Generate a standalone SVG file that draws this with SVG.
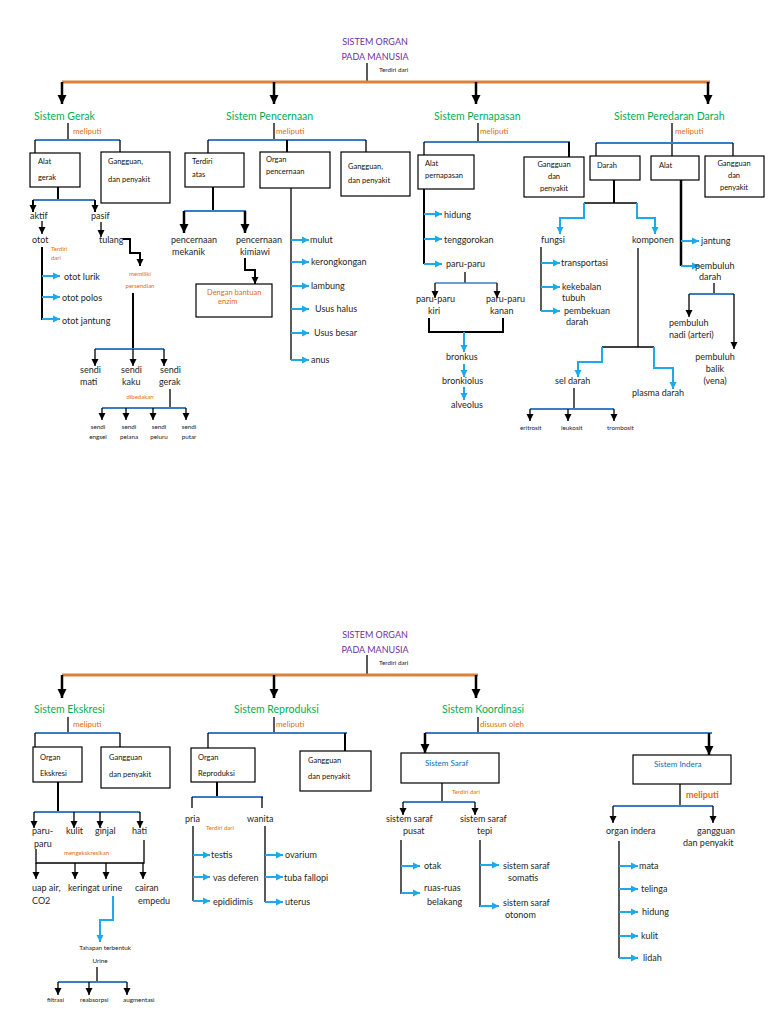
<svg xmlns="http://www.w3.org/2000/svg" width="768" height="1024" viewBox="0 0 768 1024">
<style>
text{font-family:Lato,"Open Sans","DejaVu Sans",sans-serif;fill:#262626}
.t{font-size:9px}
.bx{font-size:7.5px;fill:#111}
.s{font-size:6.3px;fill:#1a1a1a}
.o{font-size:6px;fill:#E46C0A}
.h{font-size:10.5px;fill:#00B050}
.m{font-size:8px;fill:#E46C0A}
.ti{font-size:9px;fill:#7030A0}
.bt{font-size:8px;fill:#0070C0}
.box{fill:#fff;stroke:#000;stroke-width:1.2}
.k{stroke:#000;stroke-width:1.3;fill:none}
.k2{stroke:#000;stroke-width:2;fill:none}
.kt{stroke:#000;stroke-width:2.5;fill:none}
.bl{stroke:#3A7DC4;stroke-width:2;fill:none}
.cy{stroke:#1EA9EC;stroke-width:2;fill:none}
.or{stroke:#D9823B;stroke-width:3;fill:none}
</style>
<defs>
<marker id="ab" markerUnits="userSpaceOnUse" markerWidth="10" markerHeight="10" refX="9" refY="5" orient="auto"><path d="M0,0.5 L9,5 L0,9.5 z" fill="#000"/></marker>
<marker id="as" markerUnits="userSpaceOnUse" markerWidth="8" markerHeight="8" refX="7" refY="4" orient="auto"><path d="M0,0.5 L7,4 L0,7.5 z" fill="#000"/></marker>
<marker id="ac" markerUnits="userSpaceOnUse" markerWidth="8" markerHeight="8" refX="7" refY="4" orient="auto"><path d="M0,0.5 L7,4 L0,7.5 z" fill="#1EA9EC"/></marker>
</defs>
<rect width="768" height="1024" fill="#fff"/>

<g id="connectors">
<!-- TOP -->
<line class="k" x1="367" y1="63" x2="367" y2="82"/>
<line class="or" x1="62" y1="82" x2="710" y2="82"/>
<line class="kt" x1="62" y1="82" x2="62" y2="104" marker-end="url(#ab)"/>
<line class="kt" x1="274" y1="82" x2="274" y2="104" marker-end="url(#ab)"/>
<line class="kt" x1="476" y1="82" x2="476" y2="104" marker-end="url(#ab)"/>
<line class="kt" x1="708" y1="82" x2="708" y2="104" marker-end="url(#ab)"/>
<line class="k" x1="68" y1="123" x2="68" y2="140"/>
<line class="k" x1="274" y1="123" x2="274" y2="140"/>
<line class="k" x1="478" y1="123" x2="478" y2="142"/>
<line class="k" x1="672" y1="123" x2="672" y2="156"/>
<line class="bl" x1="35" y1="140" x2="120" y2="140"/>
<line class="bl" x1="208" y1="140" x2="366" y2="140"/>
<line class="bl" x1="424" y1="142" x2="570" y2="142"/>
<line class="bl" x1="596" y1="143" x2="733" y2="143"/>
<line class="k" x1="35" y1="140" x2="35" y2="153"/>
<line class="k" x1="120" y1="140" x2="120" y2="152"/>
<line class="k" x1="208" y1="140" x2="208" y2="153"/>
<line class="k2" x1="287" y1="140" x2="287" y2="152"/>
<line class="k" x1="366" y1="140" x2="366" y2="152"/>
<line class="k" x1="424" y1="142" x2="424" y2="155"/>
<line class="k2" x1="569" y1="142" x2="569" y2="157"/>
<line class="k" x1="596" y1="143" x2="596" y2="156"/>
<line class="k" x1="733" y1="143" x2="733" y2="156"/>

<!-- Gerak -->
<line class="k2" x1="58" y1="187" x2="58" y2="200"/>
<line class="bl" x1="33" y1="200" x2="95" y2="200"/>
<line class="k2" x1="33" y1="200" x2="33" y2="212" marker-end="url(#as)"/>
<line class="k2" x1="95" y1="200" x2="95" y2="212" marker-end="url(#as)"/>
<line class="k" x1="42" y1="221" x2="42" y2="234" marker-end="url(#as)"/>
<line class="k" x1="101" y1="222" x2="101" y2="237" marker-end="url(#as)"/>
<polyline class="k2" points="123,239 130,239 130,253 140,253 140,266" marker-end="url(#as)"/>
<line class="k2" x1="133" y1="293" x2="133" y2="349"/>
<line class="bl" x1="95" y1="349" x2="164" y2="349"/>
<line class="k" x1="95" y1="349" x2="95" y2="366" marker-end="url(#as)"/>
<line class="k" x1="133" y1="349" x2="133" y2="366" marker-end="url(#as)"/>
<line class="k" x1="164" y1="349" x2="164" y2="366" marker-end="url(#as)"/>
<line class="k" x1="170" y1="389" x2="170" y2="408"/>
<line class="bl" x1="102" y1="408" x2="186" y2="408"/>
<line class="k" x1="102" y1="408" x2="102" y2="420" marker-end="url(#as)"/>
<line class="k" x1="126" y1="408" x2="126" y2="420" marker-end="url(#as)"/>
<line class="k" x1="153" y1="408" x2="153" y2="420" marker-end="url(#as)"/>
<line class="k" x1="186" y1="408" x2="186" y2="420" marker-end="url(#as)"/>
<line class="k2" x1="42" y1="247" x2="42" y2="320"/>
<line class="cy" x1="42" y1="276" x2="60" y2="276" marker-end="url(#ac)"/>
<line class="cy" x1="42" y1="297" x2="60" y2="297" marker-end="url(#ac)"/>
<line class="cy" x1="42" y1="319" x2="60" y2="319" marker-end="url(#ac)"/>

<!-- Pencernaan -->
<line class="k2" x1="213" y1="187" x2="213" y2="211"/>
<line class="bl" x1="184" y1="211" x2="246" y2="211"/>
<line class="kt" x1="184" y1="211" x2="184" y2="233" marker-end="url(#ab)"/>
<line class="kt" x1="245" y1="211" x2="245" y2="233" marker-end="url(#ab)"/>
<polyline class="k2" points="245,258 245,270 255,270 255,284" marker-end="url(#as)"/>
<line class="k" x1="291" y1="188" x2="291" y2="360"/>
<line class="cy" x1="291" y1="240" x2="309" y2="240" marker-end="url(#ac)"/>
<line class="cy" x1="291" y1="262" x2="309" y2="262" marker-end="url(#ac)"/>
<line class="cy" x1="291" y1="286" x2="309" y2="286" marker-end="url(#ac)"/>
<line class="cy" x1="291" y1="309" x2="309" y2="309" marker-end="url(#ac)"/>
<line class="cy" x1="291" y1="333" x2="309" y2="333" marker-end="url(#ac)"/>
<line class="cy" x1="291" y1="360" x2="309" y2="360" marker-end="url(#ac)"/>

<!-- Pernapasan -->
<line class="k2" x1="424" y1="189" x2="424" y2="264"/>
<line class="cy" x1="424" y1="214" x2="442" y2="214" marker-end="url(#ac)"/>
<line class="cy" x1="424" y1="239" x2="442" y2="239" marker-end="url(#ac)"/>
<line class="cy" x1="424" y1="264" x2="442" y2="264" marker-end="url(#ac)"/>
<line class="k" x1="465" y1="272" x2="465" y2="283"/>
<line class="bl" x1="435" y1="283" x2="497" y2="283" style="stroke-width:1.5"/>
<line class="k" x1="435" y1="283" x2="435" y2="298" marker-end="url(#as)"/>
<line class="k" x1="497" y1="283" x2="497" y2="298" marker-end="url(#as)"/>
<polyline class="k2" points="429,318 429,332 503,332 503,318"/>
<line class="cy" x1="464" y1="332" x2="464" y2="352" marker-end="url(#ac)"/>
<line class="cy" x1="464" y1="364" x2="464" y2="377" marker-end="url(#ac)"/>
<line class="cy" x1="464" y1="387" x2="464" y2="400" marker-end="url(#ac)"/>

<!-- Peredaran Darah -->
<line class="k2" x1="614" y1="180" x2="614" y2="203"/>
<line class="k" x1="584" y1="203" x2="637" y2="203"/>
<polyline class="cy" points="584,203 584,218 560,218 560,234" marker-end="url(#ac)"/>
<polyline class="cy" points="637,203 637,218 655,218 655,234" marker-end="url(#ac)"/>
<line class="k" x1="541" y1="247" x2="541" y2="311"/>
<line class="cy" x1="541" y1="263" x2="560" y2="263" marker-end="url(#ac)"/>
<line class="cy" x1="541" y1="287" x2="560" y2="287" marker-end="url(#ac)"/>
<line class="cy" x1="541" y1="311" x2="560" y2="311" marker-end="url(#ac)"/>
<line class="kt" x1="681" y1="180" x2="681" y2="266"/>
<line class="cy" x1="681" y1="241" x2="699" y2="241" marker-end="url(#ac)"/>
<line class="cy" x1="681" y1="266" x2="699" y2="266" marker-end="url(#ac)"/>
<line class="k" x1="714" y1="283" x2="714" y2="294"/>
<line class="bl" x1="689" y1="294" x2="734" y2="294"/>
<line class="k" x1="689" y1="294" x2="689" y2="317" marker-end="url(#as)"/>
<line class="k" x1="734" y1="294" x2="734" y2="349" marker-end="url(#as)"/>
<line class="k" x1="638" y1="248" x2="638" y2="347"/>
<line class="k" x1="602" y1="347" x2="654" y2="347"/>
<polyline class="cy" points="602,347 602,362 578,362 578,377" marker-end="url(#ac)"/>
<polyline class="cy" points="654,347 654,368 673,368 673,389" marker-end="url(#ac)"/>
<line class="k" x1="574" y1="388" x2="574" y2="409"/>
<line class="bl" x1="530" y1="409" x2="614" y2="409"/>
<line class="k" x1="530" y1="409" x2="530" y2="421" marker-end="url(#as)"/>
<line class="k" x1="568" y1="409" x2="568" y2="421" marker-end="url(#as)"/>
<line class="k" x1="614" y1="409" x2="614" y2="421" marker-end="url(#as)"/>

<!-- BOTTOM -->
<line class="k" x1="367" y1="655" x2="367" y2="675"/>
<line class="or" x1="62" y1="675" x2="478" y2="675"/>
<line class="kt" x1="62" y1="675" x2="62" y2="698" marker-end="url(#ab)"/>
<line class="kt" x1="274" y1="675" x2="274" y2="698" marker-end="url(#ab)"/>
<line class="kt" x1="476" y1="675" x2="476" y2="698" marker-end="url(#ab)"/>
<line class="k" x1="68" y1="717" x2="68" y2="733"/>
<line class="k" x1="274" y1="717" x2="274" y2="733"/>
<line class="k" x1="478" y1="717" x2="478" y2="733"/>
<line class="bl" x1="35" y1="733" x2="120" y2="733"/>
<line class="bl" x1="208" y1="733" x2="347" y2="733"/>
<line class="bl" x1="425" y1="733" x2="712" y2="733"/>
<line class="k" x1="35" y1="733" x2="35" y2="747"/>
<line class="k" x1="120" y1="733" x2="120" y2="747"/>
<line class="k" x1="208" y1="733" x2="208" y2="748"/>
<line class="k2" x1="345" y1="733" x2="345" y2="751"/>
<line class="kt" x1="425" y1="733" x2="425" y2="753" marker-end="url(#ab)"/>
<line class="kt" x1="709" y1="733" x2="709" y2="755" marker-end="url(#ab)"/>

<!-- Ekskresi -->
<line class="k2" x1="58" y1="782" x2="58" y2="812"/>
<line class="bl" x1="34" y1="812" x2="140" y2="812"/>
<line class="k" x1="34" y1="812" x2="34" y2="828" marker-end="url(#as)"/>
<line class="k" x1="74" y1="812" x2="74" y2="828" marker-end="url(#as)"/>
<line class="k" x1="100" y1="812" x2="100" y2="828" marker-end="url(#as)"/>
<line class="k" x1="140" y1="812" x2="140" y2="828" marker-end="url(#as)"/>
<polyline class="k" points="36,849 36,863 144,863 144,840"/>
<line class="k" x1="36" y1="863" x2="36" y2="879" marker-end="url(#as)"/>
<line class="k" x1="75" y1="863" x2="75" y2="879" marker-end="url(#as)"/>
<line class="k" x1="106" y1="863" x2="106" y2="879" marker-end="url(#as)"/>
<line class="k" x1="143" y1="863" x2="143" y2="879" marker-end="url(#as)"/>
<polyline class="cy" points="113,896 113,920 100,920 100,942" marker-end="url(#ac)"/>
<line class="k" x1="97" y1="967" x2="97" y2="982"/>
<line class="bl" x1="58" y1="982" x2="127" y2="982"/>
<line class="k" x1="58" y1="982" x2="58" y2="995" marker-end="url(#as)"/>
<line class="k" x1="89" y1="982" x2="89" y2="995" marker-end="url(#as)"/>
<line class="k" x1="127" y1="982" x2="127" y2="995" marker-end="url(#as)"/>

<!-- Reproduksi -->
<line class="k2" x1="217" y1="782" x2="217" y2="797"/>
<line class="bl" x1="192" y1="797" x2="263" y2="797"/>
<line class="k" x1="192" y1="797" x2="192" y2="808"/>
<line class="k" x1="262" y1="797" x2="262" y2="808"/>
<line class="k" x1="193" y1="826" x2="193" y2="901"/>
<line class="cy" x1="193" y1="855" x2="210" y2="855" marker-end="url(#ac)"/>
<line class="cy" x1="193" y1="877" x2="210" y2="877" marker-end="url(#ac)"/>
<line class="cy" x1="193" y1="901" x2="210" y2="901" marker-end="url(#ac)"/>
<line class="k" x1="265" y1="826" x2="265" y2="902"/>
<line class="cy" x1="265" y1="855" x2="283" y2="855" marker-end="url(#ac)"/>
<line class="cy" x1="265" y1="877" x2="283" y2="877" marker-end="url(#ac)"/>
<line class="cy" x1="265" y1="902" x2="283" y2="902" marker-end="url(#ac)"/>

<!-- Koordinasi: Saraf -->
<line class="k" x1="442" y1="783" x2="442" y2="802"/>
<line class="bl" x1="403" y1="802" x2="475" y2="802"/>
<line class="k" x1="403" y1="802" x2="403" y2="815" marker-end="url(#as)"/>
<line class="k" x1="475" y1="802" x2="475" y2="815" marker-end="url(#as)"/>
<line class="k" x1="401" y1="840" x2="401" y2="894"/>
<line class="cy" x1="401" y1="866" x2="420" y2="866" marker-end="url(#ac)"/>
<line class="cy" x1="401" y1="893" x2="420" y2="893" marker-end="url(#ac)"/>
<line class="k" x1="480" y1="840" x2="480" y2="907"/>
<line class="cy" x1="480" y1="865" x2="499" y2="865" marker-end="url(#ac)"/>
<line class="cy" x1="480" y1="906" x2="499" y2="906" marker-end="url(#ac)"/>

<!-- Koordinasi: Indera -->
<line class="k" x1="680" y1="784" x2="680" y2="806"/>
<line class="bl" x1="613" y1="806" x2="713" y2="806"/>
<line class="k" x1="613" y1="806" x2="613" y2="823" marker-end="url(#as)"/>
<line class="k" x1="713" y1="806" x2="713" y2="823" marker-end="url(#as)"/>
<line class="k" x1="619" y1="841" x2="619" y2="958"/>
<line class="cy" x1="619" y1="866" x2="638" y2="866" marker-end="url(#ac)"/>
<line class="cy" x1="619" y1="889" x2="638" y2="889" marker-end="url(#ac)"/>
<line class="cy" x1="619" y1="912" x2="638" y2="912" marker-end="url(#ac)"/>
<line class="cy" x1="619" y1="936" x2="638" y2="936" marker-end="url(#ac)"/>
<line class="cy" x1="619" y1="958" x2="638" y2="958" marker-end="url(#ac)"/>
</g>

<!-- ===== TOP SECTION NODES ===== -->
<g id="title-top">
<text class="ti" x="375" y="45" text-anchor="middle">SISTEM ORGAN</text>
<text class="ti" x="375" y="60" text-anchor="middle">PADA MANUSIA</text>
<text class="s" x="379" y="72">Terdiri dari</text>
</g>

<g id="sistem-gerak">
<text class="h" x="34" y="120">Sistem Gerak</text>
<text class="m" x="73" y="134">meliputi</text>
</g>
<g id="alat-gerak"><rect class="box" x="30" y="153" width="50" height="34"/><text class="bx" x="38" y="164">Alat</text><text class="bx" x="38" y="180">gerak</text></g>
<g id="gangguan-gerak"><rect class="box" x="101" y="152" width="69" height="51"/><text class="bx" x="108" y="164">Gangguan,</text><text class="bx" x="108" y="182">dan penyakit</text></g>
<g id="aktif"><text class="t" x="30" y="219">aktif</text></g>
<g id="pasif"><text class="t" x="91" y="219">pasif</text></g>
<g id="otot"><text class="t" x="32" y="243">otot</text><text class="o" x="51" y="251">Terdiri</text><text class="o" x="51" y="260">dari</text></g>
<g id="tulang"><text class="t" x="99" y="243">tulang</text></g>
<g id="persendian"><text class="o" x="140" y="276" text-anchor="middle">memiliki</text><text class="o" x="140" y="288" text-anchor="middle">persendian</text></g>
<g id="otot-lurik"><text class="t" x="64" y="280">otot lurik</text></g>
<g id="otot-polos"><text class="t" x="62" y="301">otot polos</text></g>
<g id="otot-jantung"><text class="t" x="62" y="324">otot jantung</text></g>
<g id="sendi-mati"><text class="t" x="80" y="373">sendi</text><text class="t" x="80" y="385">mati</text></g>
<g id="sendi-kaku"><text class="t" x="121" y="373">sendi</text><text class="t" x="122" y="385">kaku</text></g>
<g id="sendi-gerak"><text class="t" x="160" y="373">sendi</text><text class="t" x="159" y="385">gerak</text><text class="o" x="140" y="399" text-anchor="middle">dibedakan</text></g>
<g id="sendi-engsel"><text class="s" x="98" y="429" text-anchor="middle">sendi</text><text class="s" x="98" y="439" text-anchor="middle">engsel</text></g>
<g id="sendi-pelana"><text class="s" x="129" y="429" text-anchor="middle">sendi</text><text class="s" x="129" y="439" text-anchor="middle">pelana</text></g>
<g id="sendi-peluru"><text class="s" x="159" y="429" text-anchor="middle">sendi</text><text class="s" x="159" y="439" text-anchor="middle">peluru</text></g>
<g id="sendi-putar"><text class="s" x="189" y="429" text-anchor="middle">sendi</text><text class="s" x="189" y="439" text-anchor="middle">putar</text></g>

<g id="sistem-pencernaan">
<text class="h" x="226" y="120">Sistem Pencernaan</text>
<text class="m" x="276" y="134">meliputi</text>
</g>
<g id="terdiri-atas"><rect class="box" x="185" y="153" width="59" height="34"/><text class="bx" x="192" y="164">Terdiri</text><text class="bx" x="192" y="177">atas</text></g>
<g id="organ-pencernaan"><rect class="box" x="260" y="152" width="70" height="36"/><text class="bx" x="266" y="162">Organ</text><text class="bx" x="266" y="174">pencernaan</text></g>
<g id="gangguan-pencernaan"><rect class="box" x="341" y="152" width="69" height="44"/><text class="bx" x="348" y="169">Gangguan,</text><text class="bx" x="348" y="183">dan penyakit</text></g>
<g id="mekanik"><text class="t" x="171" y="243">pencernaan</text><text class="t" x="172" y="255">mekanik</text></g>
<g id="kimiawi"><text class="t" x="236" y="243">pencernaan</text><text class="t" x="240" y="255">kimiawi</text></g>
<g id="enzim"><rect class="box" x="196" y="284" width="76" height="33"/><text class="bx" x="207" y="295" style="fill:#E46C0A">Dengan bantuan</text><text class="bx" x="218" y="304" style="fill:#E46C0A">enzim</text></g>
<g id="mulut"><text class="t" x="310" y="243">mulut</text></g>
<g id="kerongkongan"><text class="t" x="311" y="265">kerongkongan</text></g>
<g id="lambung"><text class="t" x="311" y="289">lambung</text></g>
<g id="usus-halus"><text class="t" x="315" y="312">Usus halus</text></g>
<g id="usus-besar"><text class="t" x="314" y="336">Usus besar</text></g>
<g id="anus"><text class="t" x="311" y="363">anus</text></g>

<g id="sistem-pernapasan">
<text class="h" x="434" y="120">Sistem Pernapasan</text>
<text class="m" x="480" y="134">meliputi</text>
</g>
<g id="alat-pernapasan"><rect class="box" x="418" y="155" width="56" height="34"/><text class="bx" x="425" y="166">Alat</text><text class="bx" x="425" y="178">pernapasan</text></g>
<g id="gangguan-pernapasan"><rect class="box" x="524" y="157" width="60" height="40"/><text class="bx" x="554" y="167" text-anchor="middle">Gangguan</text><text class="bx" x="554" y="179" text-anchor="middle">dan</text><text class="bx" x="554" y="191" text-anchor="middle">penyakit</text></g>
<g id="hidung"><text class="t" x="444" y="218">hidung</text></g>
<g id="tenggorokan"><text class="t" x="444" y="243">tenggorokan</text></g>
<g id="paru-paru"><text class="t" x="446" y="267">paru-paru</text></g>
<g id="paru-kiri"><text class="t" x="416" y="302">paru-paru</text><text class="t" x="428" y="314">kiri</text></g>
<g id="paru-kanan"><text class="t" x="486" y="302">paru-paru</text><text class="t" x="490" y="314">kanan</text></g>
<g id="bronkus"><text class="t" x="446" y="360">bronkus</text></g>
<g id="bronkiolus"><text class="t" x="442" y="384">bronkiolus</text></g>
<g id="alveolus"><text class="t" x="451" y="408">alveolus</text></g>

<g id="sistem-peredaran">
<text class="h" x="614" y="120">Sistem Peredaran Darah</text>
<text class="m" x="675" y="134">meliputi</text>
</g>
<g id="darah"><rect class="box" x="590" y="156" width="50" height="24"/><text class="bx" x="597" y="168">Darah</text></g>
<g id="alat-peredaran"><rect class="box" x="651" y="156" width="48" height="24"/><text class="bx" x="659" y="168">Alat</text></g>
<g id="gangguan-peredaran"><rect class="box" x="705" y="156" width="59" height="41"/><text class="bx" x="734" y="166" text-anchor="middle">Gangguan</text><text class="bx" x="734" y="178" text-anchor="middle">dan</text><text class="bx" x="734" y="190" text-anchor="middle">penyakit</text></g>
<g id="fungsi"><text class="t" x="541" y="243">fungsi</text></g>
<g id="komponen"><text class="t" x="632" y="243">komponen</text></g>
<g id="transportasi"><text class="t" x="561" y="266">transportasi</text></g>
<g id="kekebalan"><text class="t" x="562" y="290">kekebalan</text><text class="t" x="562" y="301">tubuh</text></g>
<g id="pembekuan"><text class="t" x="564" y="314">pembekuan</text><text class="t" x="566" y="325">darah</text></g>
<g id="jantung"><text class="t" x="701" y="244">jantung</text></g>
<g id="pembuluh-darah"><text class="t" x="695" y="269">pembuluh</text><text class="t" x="699" y="280">darah</text></g>
<g id="arteri"><text class="t" x="669" y="326">pembuluh</text><text class="t" x="669" y="338">nadi (arteri)</text></g>
<g id="vena"><text class="t" x="715" y="360" text-anchor="middle">pembuluh</text><text class="t" x="715" y="372" text-anchor="middle">balik</text><text class="t" x="715" y="384" text-anchor="middle">(vena)</text></g>
<g id="sel-darah"><text class="t" x="555" y="384">sel darah</text></g>
<g id="plasma-darah"><text class="t" x="632" y="396">plasma darah</text></g>
<g id="eritrosit"><text class="s" x="520" y="430">eritrosit</text></g>
<g id="leukosit"><text class="s" x="561" y="430">leukosit</text></g>
<g id="trombosit"><text class="s" x="607" y="430">trombosit</text></g>

<!-- ===== BOTTOM SECTION NODES ===== -->
<g id="title-bottom">
<text class="ti" x="375" y="638" text-anchor="middle">SISTEM ORGAN</text>
<text class="ti" x="375" y="653" text-anchor="middle">PADA MANUSIA</text>
<text class="s" x="379" y="665">Terdiri dari</text>
</g>

<g id="sistem-ekskresi">
<text class="h" x="34" y="713">Sistem Ekskresi</text>
<text class="m" x="73" y="727">meliputi</text>
</g>
<g id="organ-ekskresi"><rect class="box" x="33" y="747" width="49" height="35"/><text class="bx" x="40" y="760">Organ</text><text class="bx" x="40" y="776">Ekskresi</text></g>
<g id="gangguan-ekskresi"><rect class="box" x="101" y="747" width="69" height="41"/><text class="bx" x="109" y="760">Gangguan</text><text class="bx" x="109" y="777">dan penyakit</text></g>
<g id="paru"><text class="t" x="32" y="834">paru-</text><text class="t" x="34" y="847">paru</text></g>
<g id="kulit-e"><text class="t" x="66" y="834">kulit</text></g>
<g id="ginjal"><text class="t" x="95" y="834">ginjal</text></g>
<g id="hati"><text class="t" x="132" y="834">hati</text></g>
<g id="mengekskresikan"><text class="o" x="64" y="855">mengekskresikan</text></g>
<g id="uap-air"><text class="t" x="32" y="891">uap air,</text><text class="t" x="32" y="904">CO2</text></g>
<g id="keringat"><text class="t" x="68" y="891">keringat</text></g>
<g id="urine"><text class="t" x="102" y="891">urine</text></g>
<g id="cairan-empedu"><text class="t" x="135" y="891">cairan</text><text class="t" x="138" y="904">empedu</text></g>
<g id="tahapan"><text class="s" x="105" y="950" text-anchor="middle">Tahapan terbentuk</text><text class="s" x="100" y="963" text-anchor="middle">Urine</text></g>
<g id="filtrasi"><text class="s" x="47" y="1002">filtrasi</text></g>
<g id="reabsorpsi"><text class="s" x="80" y="1002">reabsorpsi</text></g>
<g id="augmentasi"><text class="s" x="123" y="1002">augmentasi</text></g>

<g id="sistem-reproduksi">
<text class="h" x="234" y="713">Sistem Reproduksi</text>
<text class="m" x="276" y="727">meliputi</text>
</g>
<g id="organ-reproduksi"><rect class="box" x="191" y="748" width="64" height="34"/><text class="bx" x="198" y="760">Organ</text><text class="bx" x="198" y="776">Reproduksi</text></g>
<g id="gangguan-reproduksi"><rect class="box" x="300" y="751" width="71" height="40"/><text class="bx" x="308" y="763">Gangguan</text><text class="bx" x="308" y="779">dan penyakit</text></g>
<g id="pria"><text class="t" x="185" y="822">pria</text><text class="o" x="206" y="830">Terdiri dari</text></g>
<g id="wanita"><text class="t" x="247" y="822">wanita</text></g>
<g id="testis"><text class="t" x="211" y="858">testis</text></g>
<g id="vas-deferen"><text class="t" x="213" y="881">vas deferen</text></g>
<g id="epididimis"><text class="t" x="213" y="905">epididimis</text></g>
<g id="ovarium"><text class="t" x="285" y="858">ovarium</text></g>
<g id="tuba-fallopi"><text class="t" x="284" y="881">tuba fallopi</text></g>
<g id="uterus"><text class="t" x="285" y="905">uterus</text></g>

<g id="sistem-koordinasi">
<text class="h" x="442" y="713">Sistem Koordinasi</text>
<text class="m" x="480" y="727">disusun oleh</text>
</g>
<g id="sistem-saraf"><rect class="box" x="401" y="753" width="98" height="30"/><text class="bt" x="425" y="766">Sistem Saraf</text><text class="o" x="452" y="794">Terdiri dari</text></g>
<g id="saraf-pusat"><text class="t" x="386" y="822">sistem saraf</text><text class="t" x="403" y="834">pusat</text></g>
<g id="saraf-tepi"><text class="t" x="460" y="822">sistem saraf</text><text class="t" x="477" y="834">tepi</text></g>
<g id="otak"><text class="t" x="424" y="869">otak</text></g>
<g id="ruas-ruas"><text class="t" x="424" y="891">ruas-ruas</text><text class="t" x="427" y="905">belakang</text></g>
<g id="somatis"><text class="t" x="503" y="869">sistem saraf</text><text class="t" x="508" y="881">somatis</text></g>
<g id="otonom"><text class="t" x="503" y="906">sistem saraf</text><text class="t" x="505" y="918">otonom</text></g>
<g id="sistem-indera"><rect class="box" x="633" y="755" width="98" height="29"/><text class="bt" x="654" y="767">Sistem Indera</text><text class="m" x="686" y="798" style="font-size:9px;font-weight:bold">meliputi</text></g>
<g id="organ-indera"><text class="t" x="606" y="834">organ indera</text></g>
<g id="gangguan-indera"><text class="t" x="697" y="834">gangguan</text><text class="t" x="683" y="846">dan penyakit</text></g>
<g id="mata"><text class="t" x="639" y="869">mata</text></g>
<g id="telinga"><text class="t" x="641" y="892">telinga</text></g>
<g id="hidung-i"><text class="t" x="642" y="915">hidung</text></g>
<g id="kulit-i"><text class="t" x="641" y="939">kulit</text></g>
<g id="lidah"><text class="t" x="643" y="961">lidah</text></g>
</svg>
